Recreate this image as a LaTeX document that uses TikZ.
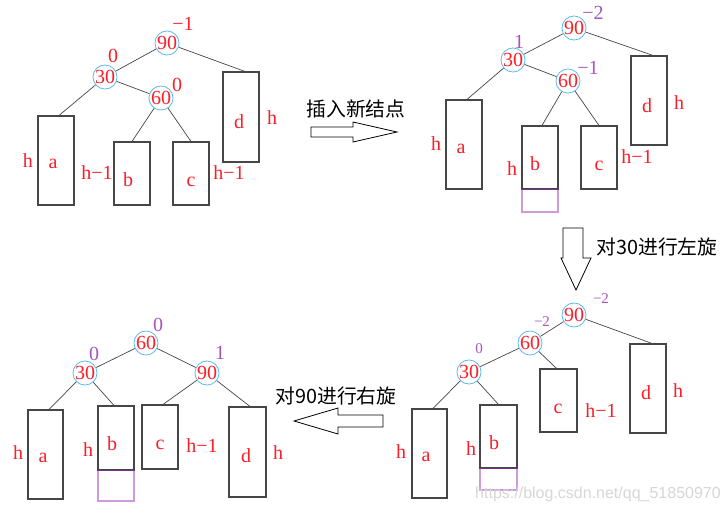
\documentclass[tikz,border=0pt]{standalone}
\usepackage{fontspec}
\setmainfont{Liberation Serif}
\newfontfamily\cjkf{Noto Sans CJK SC}
\newfontfamily\wmf{Liberation Sans}
\definecolor{cblue}{RGB}{90,185,240}
\definecolor{tred}{RGB}{250,30,40}
\definecolor{tpurple}{RGB}{165,85,190}
\definecolor{lpurple}{RGB}{205,155,220}
\definecolor{dpurple}{RGB}{120,50,140}
\definecolor{egray}{RGB}{70,70,70}
\definecolor{wmgray}{RGB}{215,215,215}
\begin{document}
\begin{tikzpicture}[x=1pt,y=-1pt,
  avl/.style={circle, draw=cblue, line width=0.8pt, minimum size=23.5pt, inner sep=0pt, text=tred, font=\fontsize{20}{20}\selectfont},
  sub/.style={draw=egray, line width=1.1pt, rectangle, inner sep=0pt, minimum width=36pt},
  ext/.style={draw=lpurple, line width=1.1pt, rectangle, inner sep=0pt, minimum width=36pt},
  lbl/.style={text=tred, inner sep=0pt, font=\fontsize{20}{20}\selectfont},
  rbal/.style={text=tred, inner sep=0pt, font=\fontsize{20}{20}\selectfont},
  pbal/.style={text=tpurple, inner sep=0pt, font=\fontsize{20}{20}\selectfont},
  sbal/.style={text=tpurple, inner sep=0pt, font=\fontsize{15}{15}\selectfont},
  cjk/.style={text=black, inner sep=0pt, font=\cjkf\fontsize{19.8}{20}\selectfont},
  edge/.style={draw=egray, line width=0.7pt},
  blockarrow/.style={draw=black, line width=0.8pt, fill=white}
]
\useasboundingbox (0,0) rectangle (728,512);
\fill[white] (0,0) rectangle (728,512);

% ===== Top-left tree =====
\node[sub, minimum height=89pt] (A1) at (56,160.5) {};
\node[sub, minimum height=63pt] (B1) at (132,173.5) {};
\node[sub, minimum height=63pt] (C1) at (191,173.5) {};
\node[sub, minimum height=90pt] (D1) at (241,117) {};
\node[lbl] (a1) at (53,164) {a};
\node[lbl] (b1) at (128,180) {b};
\node[lbl] (c1) at (191,182) {c};
\node[lbl] (d1) at (239,122) {d};
\node[avl] (n90a) at (167,43) {90};
\node[avl] (n30a) at (105,77) {30};
\node[avl] (n60a) at (161,98) {60};
\draw[edge] (n90a) -- (n30a);
\draw[edge] (n90a) -- ([xshift=4pt]D1.north);
\draw[edge] (n30a) -- ([xshift=3pt]A1.north);
\draw[edge] (n30a) -- (n60a);
\draw[edge] (n60a) -- (B1.north);
\draw[edge] (n60a) -- (C1.north);
\node[rbal] (q1) at (183,24) {−1};
\node[rbal] (q2) at (113,56) {0};
\node[rbal] (q3) at (177,85) {0};
\node[lbl] (h1) at (28,161) {h};
\node[lbl] (h2) at (97,173) {h−1};
\node[lbl] (h3) at (229,173) {h−1};
\node[lbl] (h4) at (272,118) {h};

% ===== arrow 1 =====
\draw[blockarrow] (311,127) -- (353,127) -- (353,122) -- (397,132) -- (353,142) -- (353,137) -- (311,137) -- cycle;
\node[cjk] (t1) at (356,109) {插入新结点};

% ===== Top-right tree =====
\node[sub, minimum height=89pt] (A2) at (464,144.5) {};
\node[ext, minimum height=23pt] (E2) at (540,200.5) {};
\node[sub, minimum height=63pt] (B2) at (540,157.5) {};
\draw[dpurple, line width=1.1pt] (B2.south west) -- (B2.south east);
\node[sub, minimum height=63pt] (C2) at (599,157.5) {};
\node[sub, minimum height=89pt] (D2) at (649,100.5) {};
\node[lbl] (a2) at (461,149) {a};
\node[lbl] (b2) at (535,164) {b};
\node[lbl] (c2) at (599,166) {c};
\node[lbl] (d2) at (647,106) {d};
\node[avl] (n90b) at (574,28) {90};
\node[avl] (n30b) at (513,60) {30};
\node[avl] (n60b) at (568,81) {60};
\draw[edge] (n90b) -- (n30b);
\draw[edge] (n90b) -- ([xshift=4pt]D2.north);
\draw[edge] (n30b) -- ([xshift=3pt]A2.north);
\draw[edge] (n30b) -- (n60b);
\draw[edge] (n60b) -- ([xshift=2pt]B2.north);
\draw[edge] (n60b) -- (C2.north);
\node[pbal] (q4) at (593,13) {−2};
\node[pbal] (q5) at (519,42) {1};
\node[pbal] (q6) at (588,68) {−1};
\node[lbl] (h5) at (436,144) {h};
\node[lbl] (h6) at (512,169) {h};
\node[lbl] (h7) at (637,157) {h−1};
\node[lbl] (h8) at (679,103) {h};

% ===== arrow 2 (down) =====
\draw[blockarrow] (563,228) -- (583,228) -- (583,258) -- (591,258) -- (576,290) -- (561,258) -- (563,258) -- cycle;
\node[cjk] (t2) at (657,247) {对30进行左旋};

% ===== Bottom-right tree =====
\node[sub, minimum height=89pt, minimum width=35pt] (A3) at (429.5,453.5) {};
\node[ext, minimum height=22pt, minimum width=37pt] (E3) at (498.5,479) {};
\node[sub, minimum height=63pt, minimum width=37pt] (B3) at (498.5,436.5) {};
\draw[dpurple, line width=1.1pt] (B3.south west) -- (B3.south east);
\node[sub, minimum height=63pt, minimum width=37pt] (C3) at (558.5,400.5) {};
\node[sub, minimum height=89pt] (D3) at (648,388.5) {};
\node[lbl] (a3) at (426,457) {a};
\node[lbl] (b3) at (494,443) {b};
\node[lbl] (c3) at (558,409) {c};
\node[lbl] (d3) at (646,393) {d};
\node[avl] (n90c) at (574,315) {90};
\node[avl] (n60c) at (530,343) {60};
\node[avl] (n30c) at (469,372) {30};
\draw[edge] (n90c) -- (n60c);
\draw[edge] (n90c) -- ([xshift=4pt]D3.north);
\draw[edge] (n60c) -- (n30c);
\draw[edge] (n60c) -- ([xshift=-2pt]C3.north);
\draw[edge] (n30c) -- ([xshift=3.5pt]A3.north);
\draw[edge] (n30c) -- (B3.north);
\node[sbal] (q7) at (601,299) {−2};
\node[sbal] (q8) at (542,322) {−2};
\node[sbal] (q9) at (479,349) {0};
\node[lbl] (h9) at (401,452) {h};
\node[lbl] (h10) at (471,449) {h};
\node[lbl] (h11) at (601,411) {h−1};
\node[lbl] (h12) at (678,391) {h};

% ===== arrow 3 (left) =====
\draw[blockarrow] (383,415) -- (338,415) -- (338,408) -- (294,421) -- (338,434) -- (338,427) -- (383,427) -- cycle;
\node[cjk] (t3) at (336,396) {对90进行右旋};

% ===== Bottom-left tree =====
\node[sub, minimum height=89pt, minimum width=35pt] (A4) at (45.5,454.5) {};
\node[ext, minimum height=31pt] (E4) at (116,485.5) {};
\node[sub, minimum height=64pt] (B4) at (116,438) {};
\draw[dpurple, line width=1.1pt] (B4.south west) -- (B4.south east);
\node[sub, minimum height=64pt] (C4) at (160,437) {};
\node[sub, minimum height=90pt, minimum width=37pt] (D4) at (247.5,452) {};
\node[lbl] (a4) at (43,458) {a};
\node[lbl] (b4) at (112,444) {b};
\node[lbl] (c4) at (160,445) {c};
\node[lbl] (d4) at (246,456) {d};
\node[avl] (n60d) at (146,343) {60};
\node[avl] (n30d) at (85,373) {30};
\node[avl] (n90d) at (207,373) {90};
\draw[edge] (n60d) -- (n30d);
\draw[edge] (n60d) -- (n90d);
\draw[edge] (n30d) -- ([xshift=3.5pt]A4.north);
\draw[edge] (n30d) -- ([xshift=-2pt]B4.north);
\draw[edge] (n90d) -- ([xshift=3pt]C4.north);
\draw[edge] (n90d) -- ([xshift=2.5pt]D4.north);
\node[pbal] (q10) at (158,325) {0};
\node[pbal] (q11) at (94,354) {0};
\node[pbal] (q12) at (220,353) {1};
\node[lbl] (h13) at (18,453) {h};
\node[lbl] (h14) at (88,450) {h};
\node[lbl] (h15) at (202,446) {h−1};
\node[lbl] (h16) at (278,453) {h};

% ===== watermark =====
\node[text=wmgray, inner sep=0pt, font=\wmf\fontsize{16}{16}\selectfont] (wm) at (598,494) {https://blog.csdn.net/qq\_51850970};
\end{tikzpicture}
\end{document}
